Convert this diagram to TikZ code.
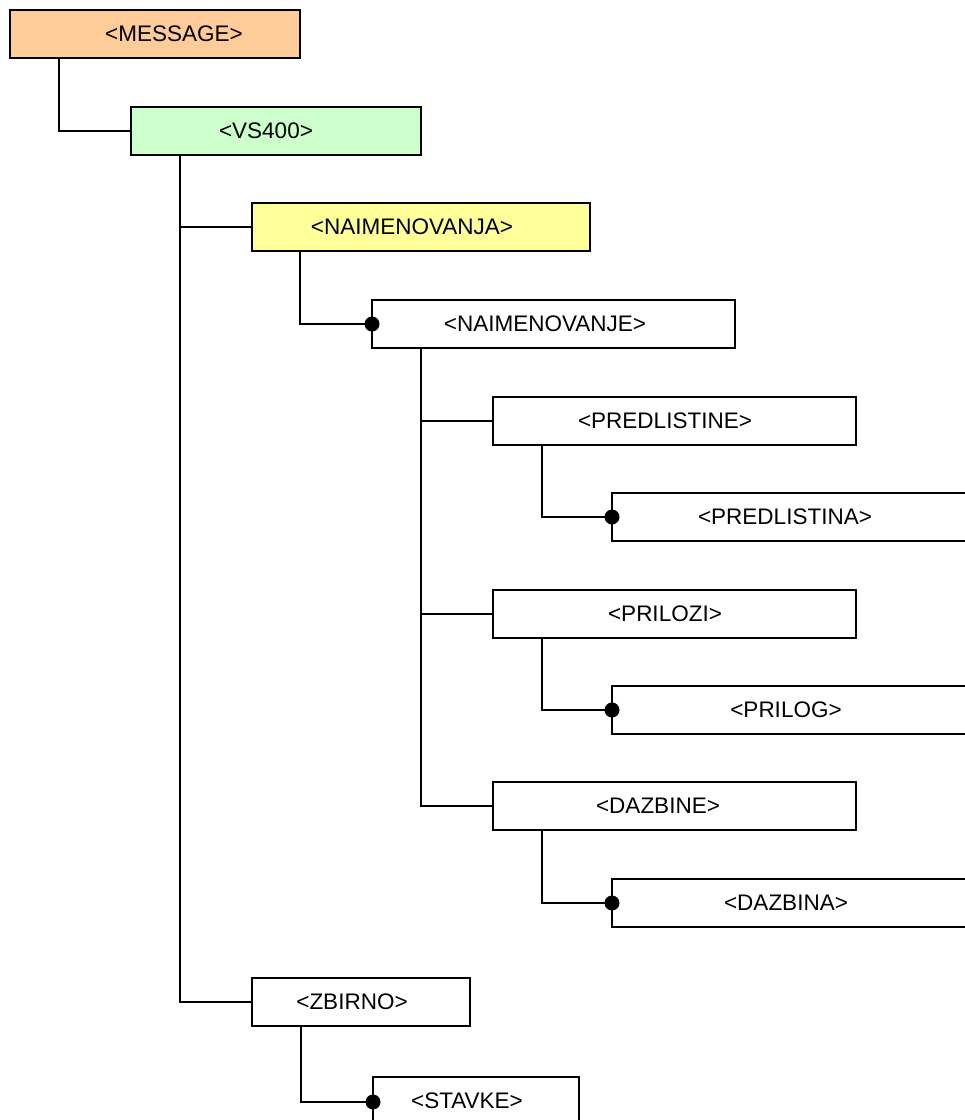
\documentclass[tikz,border=0pt]{standalone}
\usepackage{fontspec}
\setmainfont{Liberation Sans}
\definecolor{msgfill}{HTML}{FFCC99}
\definecolor{vsfill}{HTML}{CCFFCC}
\definecolor{nafill}{HTML}{FFFF99}
\begin{document}
\begin{tikzpicture}[x=1pt,y=-1pt,
  box/.style={draw=black, line width=2pt, fill=white, inner sep=0pt, outer sep=0pt, minimum height=48pt},
  lbl/.style={font=\fontsize{22.5}{27}\selectfont, inner sep=0pt},
  conn/.style={draw=black, line width=2pt},
  dotend/.style={fill=black}]
\useasboundingbox (0,0) rectangle (965,1120);
\clip (0,0) rectangle (965,1120);
\fill[white] (0,0) rectangle (965,1120);

\node[box, fill=msgfill, minimum width=290pt] (message) at (155,34) {};
\node[lbl] (tmessage) at (174,34) {<MESSAGE>};
\node[box, fill=vsfill, minimum width=290pt] (vs) at (276,131) {};
\node[lbl] (tvs) at (266,131) {<VS400>};
\node[box, fill=nafill, minimum width=338pt] (naja) at (421,227) {};
\node[lbl] (tnaja) at (412,227) {<NAIMENOVANJA>};
\node[box, minimum width=363pt] (naje) at (553.5,324) {};
\node[lbl] (tnaje) at (545,324) {<NAIMENOVANJE>};
\node[box, minimum width=363pt] (predne) at (674.5,420.5) {};
\node[lbl] (tpredne) at (665,420.5) {<PREDLISTINE>};
\node[box, minimum width=363pt] (predna) at (793.5,517) {};
\node[lbl] (tpredna) at (785,517) {<PREDLISTINA>};
\node[box, minimum width=363pt] (prilozi) at (674.5,614) {};
\node[lbl] (tprilozi) at (665,614) {<PRILOZI>};
\node[box, minimum width=363pt] (prilog) at (793.5,710) {};
\node[lbl] (tprilog) at (786,710) {<PRILOG>};
\node[box, minimum width=363pt] (dazbine) at (674.5,806) {};
\node[lbl] (tdazbine) at (658,806) {<DAZBINE>};
\node[box, minimum width=363pt] (dazbina) at (793.5,903) {};
\node[lbl] (tdazbina) at (786,903) {<DAZBINA>};
\node[box, minimum width=218pt] (zbirno) at (361,1002) {};
\node[lbl] (tzbirno) at (352,1002) {<ZBIRNO>};
\node[box, minimum width=206pt] (stavke) at (476,1101) {};
\node[lbl] (tstavke) at (467,1101) {<STAVKE>};

% connectors
\draw[conn] ([xshift=49pt]message.south west) |- (vs.west);
\draw[conn] ([xshift=49pt]vs.south west) |- (naja.west);
\draw[conn] ([xshift=49pt]vs.south west) |- (zbirno.west);
\draw[conn] ([xshift=48pt]naja.south west) |- (naje.west);
\draw[conn] ([xshift=49pt]naje.south west) |- (predne.west);
\draw[conn] ([xshift=49pt]naje.south west) |- (prilozi.west);
\draw[conn] ([xshift=49pt]naje.south west) |- (dazbine.west);
\draw[conn] ([xshift=49pt]predne.south west) |- (predna.west);
\draw[conn] ([xshift=49pt]prilozi.south west) |- (prilog.west);
\draw[conn] ([xshift=49pt]dazbine.south west) |- (dazbina.west);
\draw[conn] ([xshift=49pt]zbirno.south west) |- ([yshift=-1pt]stavke.west);

\fill[dotend] (naje.west) circle (7.5pt);
\fill[dotend] (predna.west) circle (7.5pt);
\fill[dotend] (prilog.west) circle (7.5pt);
\fill[dotend] (dazbina.west) circle (7.5pt);
\fill[dotend] ([yshift=-1pt]stavke.west) circle (7.5pt);
\end{tikzpicture}
\end{document}
